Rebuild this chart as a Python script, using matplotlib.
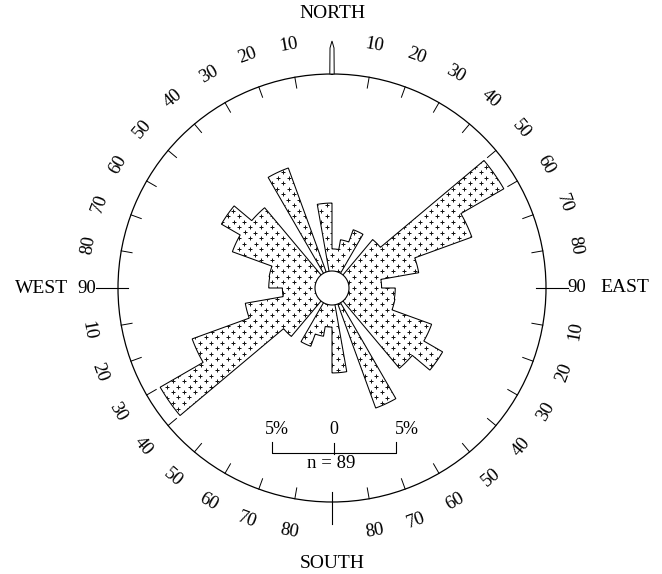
import matplotlib

matplotlib.use("Agg")

import matplotlib.pyplot as plt
import numpy as np


# percent of readings in each 10 degree class from 0 to 180; the rose is axial,
# so the same classes repeat from 180 to 360
CLASS_START = np.arange(0, 180, 10)
PERCENT = np.array([3.15, 3.95, 5.0, 0.0, 5.1, 16.0, 12.0, 7.1, 4.0,
                    5.1, 5.15, 8.55, 10.3, 8.45, 0.0, 10.3, 0.0, 6.85])
N_READINGS = 89
SCALE_PCT = 5

RING_ANGLES = [10, 20, 30, 40, 50, 60, 70, 80,
               100, 110, 120, 130, 140, 150, 160, 170,
               190, 200, 210, 220, 230, 240, 250, 260,
               280, 290, 300, 310, 320, 330, 340, 350]
RING_LABELS = ["10", "20", "30", "40", "50", "60", "70", "80",
               "10", "20", "30", "40", "50", "60", "70", "80",
               "80", "70", "60", "50", "40", "30", "20", "10",
               "80", "70", "60", "50", "40", "30", "20", "10"]

W, H = 662, 574
CX, CY = 332, 288
R_PX = 214
PX_PER_PCT = 62 / SCALE_PCT
RMAX = R_PX / PX_PER_PCT
SERIF = "Liberation Serif"


def px(d):
    return d / PX_PER_PCT


def main():
    fig = plt.figure(figsize=(W / 100, H / 100), dpi=100)
    fig.patch.set_facecolor("white")
    ax = fig.add_axes([(CX - R_PX) / W, (H - CY - R_PX) / H, 2 * R_PX / W, 2 * R_PX / H],
                      projection="polar")
    ax.set_theta_zero_location("N")
    ax.set_theta_direction(-1)
    ax.set_ylim(0, RMAX)
    ax.set_xticks([])
    ax.set_yticks([])
    ax.grid(False)
    ax.spines["polar"].set_linewidth(0.9)

    # outline of the petals as one closed contour (no lines between adjacent classes)
    values = np.concatenate([PERCENT, PERCENT])
    edges = np.deg2rad(np.arange(0, 361, 10))
    th, rr = [], []
    for i, v in enumerate(values):
        t = np.linspace(edges[i], edges[i + 1], 24)
        th.extend(t)
        rr.extend(np.full_like(t, v))
    poly = ax.fill(th, rr, facecolor="white", edgecolor="black", lw=0.75, zorder=2)[0]

    # stipple of small crosses clipped to the petals
    step = 11.0
    rows = np.arange(-R_PX, R_PX, step / 2)
    gx, gy = [], []
    for j, y in enumerate(rows):
        xs = np.arange(-R_PX + (step / 2 if j % 2 else 0), R_PX, step)
        gx.extend(xs)
        gy.extend(np.full_like(xs, y))
    gx, gy = np.array(gx), np.array(gy)
    pts = ax.scatter(np.arctan2(gx, gy), np.hypot(gx, gy) / PX_PER_PCT, marker="+",
                     s=7, linewidths=0.7, color="#111111", zorder=3)
    pts.set_clip_path(poly)

    # hole in the middle
    t = np.linspace(0, 2 * np.pi, 200)
    ax.fill(t, np.full_like(t, px(17)), facecolor="white", edgecolor="black", lw=0.8, zorder=4)

    # inward ticks every 10 degrees
    for a in range(10, 360, 10):
        if a in (90, 180, 270):
            continue
        ax.plot([np.deg2rad(a)] * 2, [RMAX - px(11), RMAX], color="black", lw=0.7,
                clip_on=False, zorder=5)
    for a in (90, 180, 270):
        ax.plot([np.deg2rad(a)] * 2, [RMAX - px(10), RMAX + px(22)], color="black", lw=0.8,
                clip_on=False, zorder=5)

    # north pointer
    d0, d1 = 2.2 / R_PX, 2.0 / (R_PX + 26)
    ax.fill([-d0, -d1, 0, d1, d0], [RMAX, RMAX + px(26), RMAX + px(33), RMAX + px(26), RMAX],
            facecolor="white", edgecolor="black", lw=0.7, clip_on=False, zorder=5)

    for a, lab in zip(RING_ANGLES, RING_LABELS):
        rot = -a if (a < 90 or a > 270) else 180 - a
        ax.text(np.deg2rad(a), px(247), lab, rotation=rot, rotation_mode="anchor",
                ha="center", va="center", fontsize=13.5, family=SERIF, clip_on=False)

    ax.text(np.deg2rad(90), px(235), "90", ha="left", va="center", fontsize=13.5,
            family=SERIF, clip_on=False)
    ax.text(np.deg2rad(270), px(236), "90", ha="right", va="center", fontsize=13.5,
            family=SERIF, clip_on=False)
    ax.text(np.deg2rad(90), px(268), "EAST", ha="left", va="center", fontsize=14,
            family=SERIF, clip_on=False)
    ax.text(np.deg2rad(270), px(264), "WEST", ha="right", va="center", fontsize=14,
            family=SERIF, clip_on=False)
    ax.text(0, px(274), "NORTH", ha="center", va="center", fontsize=14,
            family=SERIF, clip_on=False)
    ax.text(np.pi, px(275), "SOUTH", ha="center", va="center", fontsize=14,
            family=SERIF, clip_on=False)

    # scale bar
    ov = fig.add_axes([0, 0, 1, 1])
    ov.set_xlim(0, W)
    ov.set_ylim(H, 0)
    ov.axis("off")
    half = SCALE_PCT * PX_PER_PCT
    bx, by = 334, 453
    ov.plot([bx - half, bx - half, bx + half, bx + half], [by - 11, by, by, by - 11],
            color="black", lw=0.8)
    ov.plot([bx, bx], [by - 10, by + 1], color="black", lw=0.8)
    ov.text(bx - half + 5, 429, f"{SCALE_PCT}%", ha="center", va="center", fontsize=13,
            family=SERIF)
    ov.text(bx, 429, "0", ha="center", va="center", fontsize=13, family=SERIF)
    ov.text(bx + half + 11, 429, f"{SCALE_PCT}%", ha="center", va="center", fontsize=13,
            family=SERIF)
    ov.text(bx - 3, 464, f"n = {N_READINGS}", ha="center", va="center", fontsize=13.5,
            family=SERIF)

    fig.savefig("out.png", dpi=100, facecolor="white")
    plt.close(fig)


if __name__ == "__main__":
    main()
